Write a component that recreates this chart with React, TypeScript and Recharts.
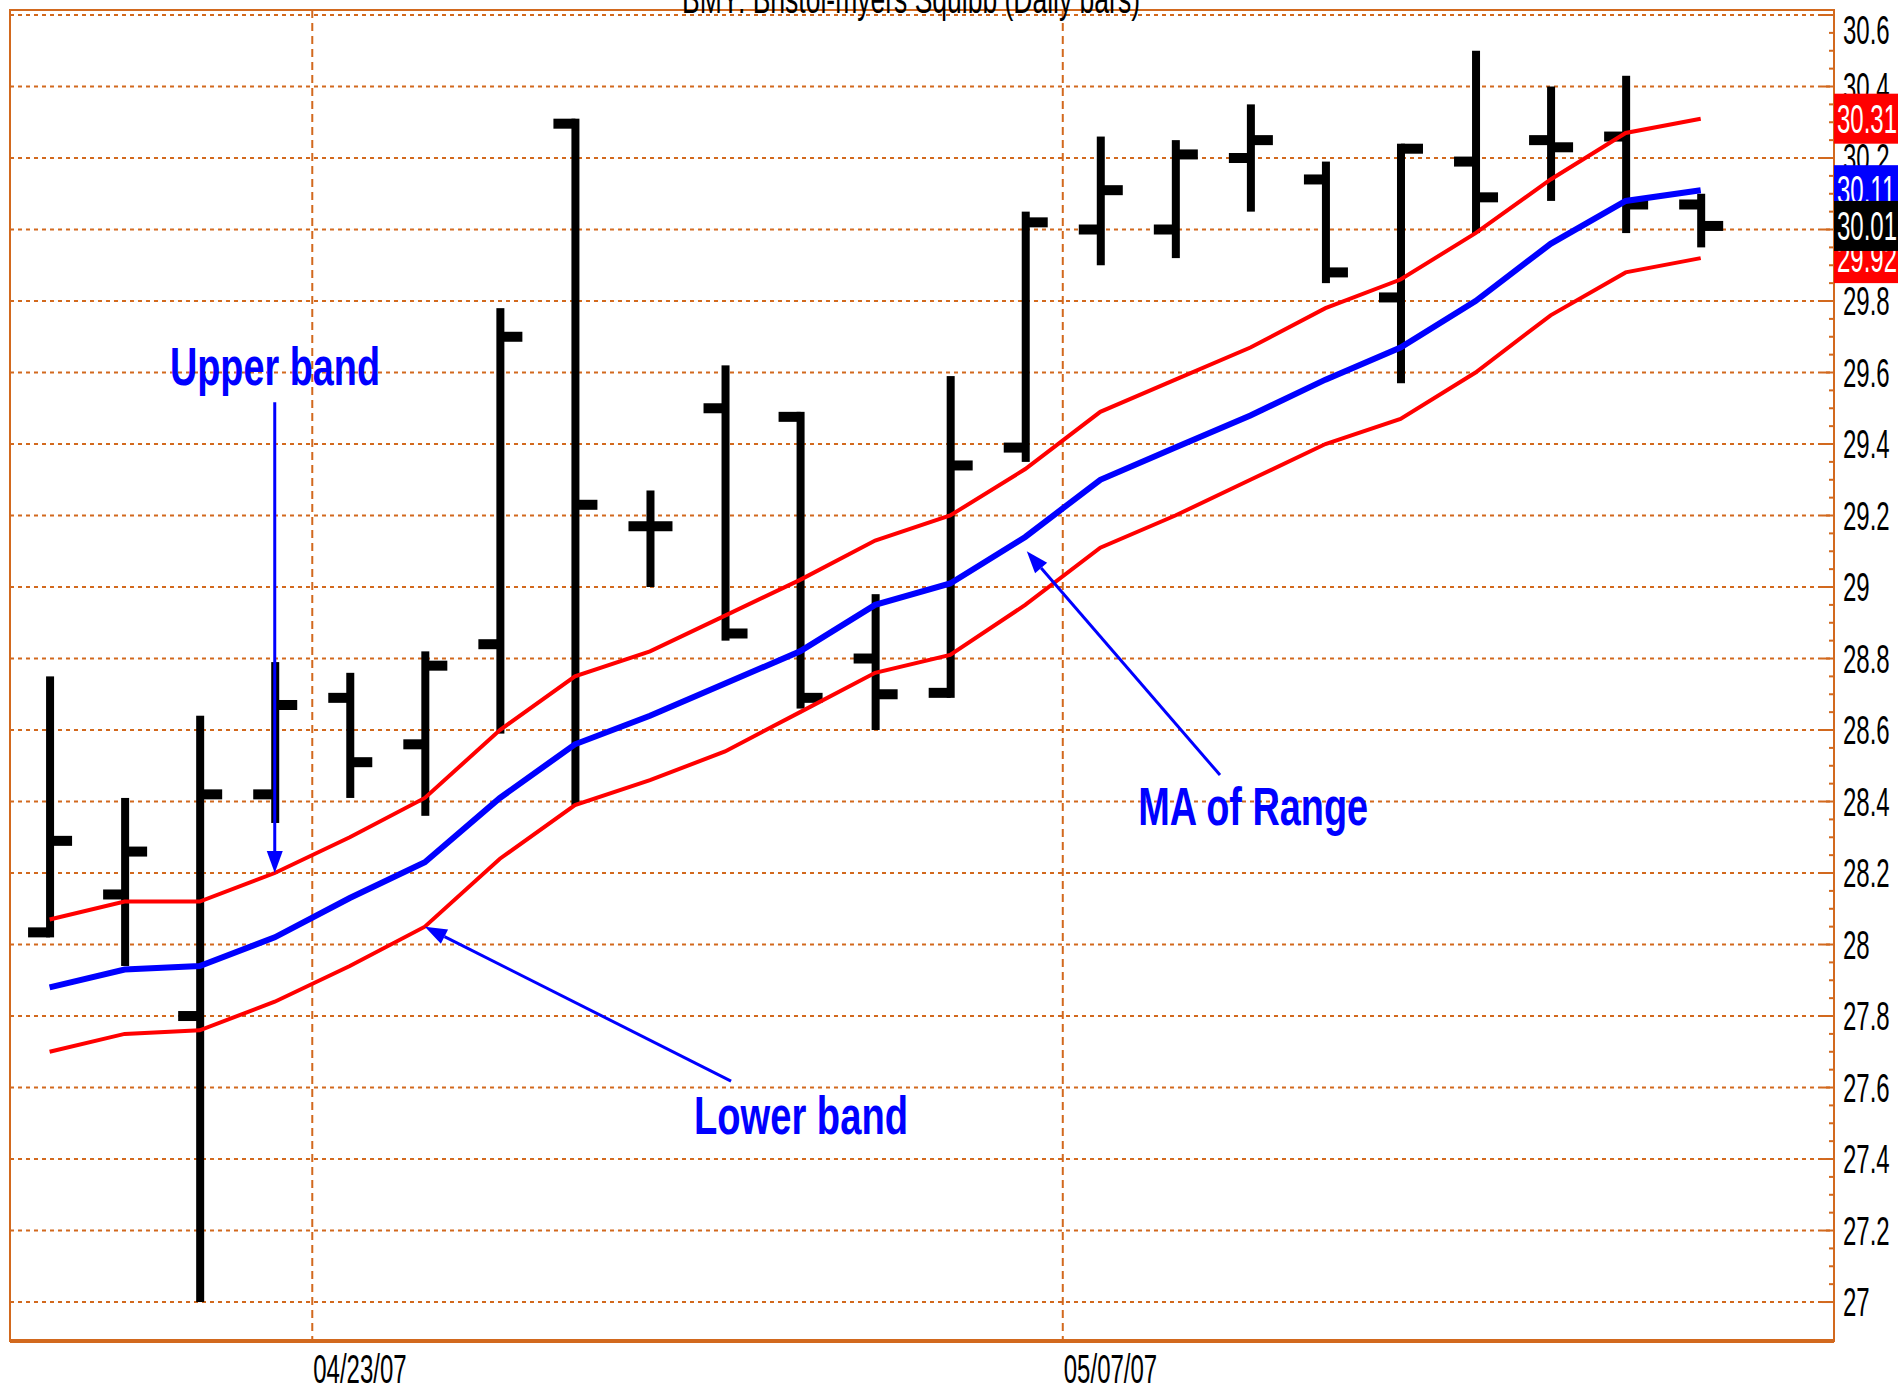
import React from 'react';
import { ComposedChart, Bar, Line, XAxis, YAxis, CartesianGrid, ReferenceLine, ReferenceDot, ReferenceArea } from 'recharts';

// BMY daily bars, 04/17/07 - 05/17/07
const tradeDates = [
  '04/17/07', '04/18/07', '04/19/07', '04/20/07', '04/23/07', '04/24/07', '04/25/07', '04/26/07',
  '04/27/07', '04/30/07', '05/01/07', '05/02/07', '05/03/07', '05/04/07', '05/07/07', '05/08/07',
  '05/09/07', '05/10/07', '05/11/07', '05/14/07', '05/15/07', '05/16/07', '05/17/07',
];
const openPrices = [28.03, 28.14, 27.8, 28.42, 28.69, 28.56, 28.84, 30.31, 29.17, 29.5, 29.48, 28.8, 28.7, 29.39, 30.0, 30.0, 30.2, 30.14, 29.81, 30.19, 30.25, 30.26, 30.07];
const highPrices = [28.75, 28.41, 28.64, 28.79, 28.76, 28.82, 29.78, 30.31, 29.27, 29.62, 29.49, 28.98, 29.59, 30.05, 30.26, 30.25, 30.35, 30.19, 30.24, 30.5, 30.4, 30.43, 30.1];
const lowPrices = [28.02, 27.94, 27.0, 28.34, 28.41, 28.36, 28.59, 28.39, 29.0, 28.85, 28.66, 28.6, 28.69, 29.35, 29.9, 29.92, 30.05, 29.85, 29.57, 29.99, 30.08, 29.99, 29.95];
const closePrices = [28.29, 28.26, 28.42, 28.67, 28.51, 28.78, 29.7, 29.23, 29.17, 28.87, 28.69, 28.7, 29.34, 30.02, 30.11, 30.21, 30.25, 29.88, 30.24, 30.09, 30.23, 30.07, 30.01];
const upperBand = [28.07, 28.12, 28.12, 28.2, 28.3, 28.41, 28.6, 28.75, 28.82, 28.92, 29.02, 29.13, 29.2, 29.33, 29.49, 29.58, 29.67, 29.78, 29.86, 29.99, 30.14, 30.27, 30.31];
const maOfRange = [27.88, 27.93, 27.94, 28.02, 28.13, 28.23, 28.41, 28.56, 28.64, 28.73, 28.82, 28.95, 29.01, 29.14, 29.3, 29.39, 29.48, 29.58, 29.67, 29.8, 29.96, 30.08, 30.11];
const lowerBand = [27.7, 27.75, 27.76, 27.84, 27.94, 28.05, 28.24, 28.39, 28.46, 28.54, 28.65, 28.76, 28.81, 28.95, 29.11, 29.2, 29.3, 29.4, 29.47, 29.6, 29.76, 29.88, 29.92];

const dateTickLabels = ['04/23/07', '05/07/07'];
const priceTickLabels = ['27', '27.2', '27.4', '27.6', '27.8', '28', '28.2', '28.4', '28.6', '28.8', '29', '29.2', '29.4', '29.6', '29.8', '30', '30.2', '30.4', '30.6'];

const TITLE = 'BMY: Bristol-myers Squibb (Daily bars)';
const ORANGE = '#D2691E';
const FONT = '"Liberation Sans", Arial, sans-serif';

const rows = tradeDates.map((date, k) => ({
  i: k + 1,
  date,
  open: openPrices[k],
  high: highPrices[k],
  low: lowPrices[k],
  close: closePrices[k],
  upper: upperBand[k],
  ma: maOfRange[k],
  lower: lowerBand[k],
}));

// grid line for a date sits half a bar before that date's bar
const dateTicks = dateTickLabels.map((d) => tradeDates.indexOf(d) + 1 - 0.5);
const majorTicks = priceTickLabels.map(Number);
const gridTicks: number[] = [];
majorTicks.forEach((v, k) => {
  gridTicks.push(v);
  if (k < majorTicks.length - 1) [0.05, 0.1, 0.15].forEach((m) => gridTicks.push(+(v + m).toFixed(2)));
});

// last values shown as coloured tags on the price axis (drawn last = on top)
const last = tradeDates.length - 1;
const tagValues = [upperBand[last], maOfRange[last], lowerBand[last], closePrices[last]];
const tagColors = ['#FF0000', '#0000FF', '#FF0000', '#000000'];
const axisTicks = [...gridTicks, ...tagValues];

const X_DOMAIN = [0.4724, 24.776];
const Y_DOMAIN = [26.891, 30.614];

const OhlcShape = (props: any) => {
  const { x, y, width, height, payload } = props;
  if (height == null) return null;
  const cx = x + width / 2;
  const k = height / (payload.high - payload.low);
  const th = 10;
  const clamp = (v: number) => Math.max(y, Math.min(y + height - th, v));
  const yo = clamp(y + (payload.high - payload.open) * k - th / 2);
  const yc = clamp(y + (payload.high - payload.close) * k - th / 2);
  return (
    <g fill="#000">
      <rect x={cx - 4} y={y} width={8} height={height} />
      <rect x={cx - 22} y={yo} width={22} height={th} />
      <rect x={cx} y={yc} width={22} height={th} />
    </g>
  );
};

const PriceTick = (props: any) => {
  const { x, y, payload, index } = props;
  const v = payload.value;
  if (index >= gridTicks.length) {
    const t = index - gridTicks.length;
    return (
      <g>
        <rect x={x} y={y - 25} width={64} height={50} fill={tagColors[t]} />
        <text transform={`translate(${x + 3} ${y + 14}) scale(0.6 1)`} fontFamily={FONT} fontSize={40} fill="#fff">
          {v.toFixed(2)}
        </text>
      </g>
    );
  }
  const major = Math.abs(v * 5 - Math.round(v * 5)) < 1e-6;
  const ty = Math.max(y, 30);
  return (
    <g>
      <line x1={x - (major ? 12 : 5)} y1={y} x2={x} y2={y} stroke={ORANGE} strokeWidth={2} />
      {major && (
        <text transform={`translate(${x + 9} ${ty + 14}) scale(0.6 1)`} fontFamily={FONT} fontSize={40} fill="#000">
          {priceTickLabels[majorTicks.indexOf(v)]}
        </text>
      )}
    </g>
  );
};

const DateTick = (props: any) => {
  const { x, y, payload } = props;
  const label = dateTickLabels[dateTicks.indexOf(payload.value)];
  return (
    <text transform={`translate(${x + 1} ${y + 42}) scale(0.6 1)`} fontFamily={FONT} fontSize={40} fill="#000">
      {label}
    </text>
  );
};

const Arrow = (props: any) => {
  const { x1, y1, x2, y2 } = props;
  const dx = x2 - x1;
  const dy = y2 - y1;
  const len = Math.hypot(dx, dy) || 1;
  const ux = dx / len;
  const uy = dy / len;
  const hl = 22;
  const hw = 8;
  const bx = x2 - ux * hl;
  const by = y2 - uy * hl;
  return (
    <g>
      <line x1={x1} y1={y1} x2={bx} y2={by} stroke="#0000FF" strokeWidth={3} />
      <polygon
        points={`${x2},${y2} ${bx - uy * hw},${by + ux * hw} ${bx + uy * hw},${by - ux * hw}`}
        fill="#0000FF"
      />
    </g>
  );
};

const noteText = (text: string, len: number) => (p: any) => (
  <text x={p.cx} y={p.cy} fontFamily={FONT} fontWeight="bold" fontSize={54} fill="#0000FF" textLength={len} lengthAdjust="spacingAndGlyphs">
    {text}
  </text>
);

export default function App() {
  return (
    <div style={{ position: 'absolute', left: 0, top: 0, width: 1898, height: 1390, background: '#fff', overflow: 'hidden' }}>
      <ComposedChart width={1898} height={1390} data={rows} margin={{ top: 10, left: 10, right: 0, bottom: 0 }}>
        <CartesianGrid vertical={false} horizontalValues={majorTicks} stroke={ORANGE} strokeWidth={2} strokeDasharray="4 4" />
        <CartesianGrid horizontal={false} verticalValues={dateTicks} stroke={ORANGE} strokeWidth={2} strokeDasharray="8 5" />
        <XAxis
          type="number"
          dataKey="i"
          domain={X_DOMAIN}
          allowDataOverflow
          ticks={dateTicks}
          interval={0}
          tick={DateTick}
          tickLine={false}
          tickSize={0}
          tickMargin={0}
          axisLine={{ stroke: ORANGE, strokeWidth: 4 }}
          height={49}
        />
        <YAxis
          orientation="right"
          type="number"
          domain={Y_DOMAIN}
          allowDataOverflow
          ticks={axisTicks}
          interval={0}
          tick={PriceTick}
          tickLine={false}
          tickSize={0}
          tickMargin={0}
          axisLine={{ stroke: ORANGE, strokeWidth: 2 }}
          width={64}
        />
        <ReferenceArea x1={X_DOMAIN[0]} x2={X_DOMAIN[1]} y1={Y_DOMAIN[0]} y2={Y_DOMAIN[1]} fill="none" fillOpacity={0} stroke={ORANGE} strokeWidth={2} ifOverflow="visible" />
        <Bar dataKey={(d: any) => [d.low, d.high]} barSize={8} shape={OhlcShape} isAnimationActive={false} />
        <Line type="linear" dataKey="upper" stroke="#FF0000" strokeWidth={4} dot={false} activeDot={false} isAnimationActive={false} />
        <Line type="linear" dataKey="lower" stroke="#FF0000" strokeWidth={4} dot={false} activeDot={false} isAnimationActive={false} />
        <Line type="linear" dataKey="ma" stroke="#0000FF" strokeWidth={6} dot={false} activeDot={false} isAnimationActive={false} />

        <ReferenceLine segment={[{ x: 4, y: 29.517 }, { x: 4, y: upperBand[3] }]} shape={Arrow} ifOverflow="visible" />
        <ReferenceLine segment={[{ x: 10.08, y: 27.618 }, { x: 6, y: lowerBand[5] }]} shape={Arrow} ifOverflow="visible" />
        <ReferenceLine segment={[{ x: 16.595, y: 28.474 }, { x: 14.02, y: 29.1 }]} shape={Arrow} ifOverflow="visible" />
        <ReferenceDot x={2.604} y={29.565} r={0} shape={noteText('Upper band', 210)} ifOverflow="visible" />
        <ReferenceDot x={9.586} y={27.47} r={0} shape={noteText('Lower band', 214)} ifOverflow="visible" />
        <ReferenceDot x={15.504} y={28.334} r={0} shape={noteText('MA of Range', 230)} ifOverflow="visible" />
      </ComposedChart>
      <svg width={1898} height={40} style={{ position: 'absolute', left: 0, top: 0, pointerEvents: 'none' }}>
        <text x={682} y={13} fontFamily={FONT} fontSize={40} fill="#000" textLength={458} lengthAdjust="spacingAndGlyphs">
          {TITLE}
        </text>
      </svg>
    </div>
  );
}
